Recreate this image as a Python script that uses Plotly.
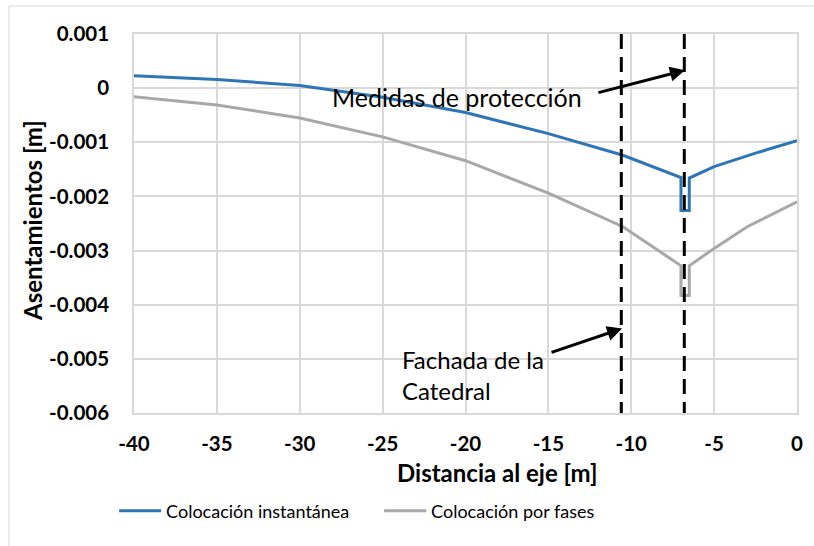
import plotly.graph_objects as go

# Data
x_inst = [-40, -35, -30, -25, -20, -15, -10.5, -7.0, -7.0, -6.5, -6.5, -5, -2.5, 0]
y_inst = [0.00023, 0.00016, 0.00005, -0.00017, -0.00045, -0.00084, -0.00124,
          -0.00165, -0.00226, -0.00226, -0.00166, -0.00145, -0.00120, -0.00097]

x_fases = [-40, -35, -30, -25, -20, -15, -10.5, -7.0, -7.0, -6.5, -6.5, -5, -3, 0]
y_fases = [-0.00016, -0.00031, -0.00055, -0.00090, -0.00134, -0.00194, -0.00256,
           -0.00328, -0.00383, -0.00383, -0.00328, -0.00296, -0.00256, -0.00210]

x_marks = [-10.6, -6.8]          # vertical dashed reference lines
x_ticks = [-40, -35, -30, -25, -20, -15, -10, -5, 0]
x_tick_text = ["-40", "-35", "-30", "-25", "-20", "-15", "-10", "-5", "0"]
y_ticks = [0.001, 0, -0.001, -0.002, -0.003, -0.004, -0.005, -0.006]
y_tick_text = ["0.001", "0", "-0.001", "-0.002", "-0.003", "-0.004", "-0.005", "-0.006"]

FONT = "Lato"
GRID = "#d9d9d9"

fig = go.Figure()
fig.add_trace(go.Scatter(x=x_inst, y=y_inst, mode="lines", name="Colocación instantánea",
                         line=dict(color="#2E75B6", width=3)))
fig.add_trace(go.Scatter(x=x_fases, y=y_fases, mode="lines", name="Colocación por fases",
                         line=dict(color="#A8A8A8", width=3)))

for xm in x_marks:
    fig.add_shape(type="line", xref="x", yref="y", x0=xm, x1=xm, y0=0.001, y1=-0.006,
                  line=dict(color="black", width=3, dash="15px,8px"))

# outer chart border
fig.add_shape(type="rect", xref="paper", yref="paper", x0=-0.1885, x1=1.2, y0=-0.6, y1=1.0739,
              line=dict(color=GRID, width=1), fillcolor="rgba(0,0,0,0)", layer="below")

# annotations
fig.add_annotation(x=-20.5, y=-0.000167, xref="x", yref="y", text="Medidas de protección",
                   showarrow=False, font=dict(family=FONT, size=25, color="black"))
fig.add_annotation(x=-6.76, y=0.00033, ax=-12.07, ay=-0.00009, xref="x", yref="y",
                   axref="x", ayref="y", text="", showarrow=True, arrowhead=2,
                   arrowsize=1, arrowwidth=3, arrowcolor="black")
fig.add_annotation(x=-23.95, y=-0.0053, xref="x", yref="y", text="Fachada de la<br>Catedral",
                   showarrow=False, xanchor="left", yanchor="middle", align="left",
                   font=dict(family=FONT, size=24, color="black"))
fig.add_annotation(x=-10.55, y=-0.00444, ax=-14.9, ay=-0.00489, xref="x", yref="y",
                   axref="x", ayref="y", text="", showarrow=True, arrowhead=2,
                   arrowsize=1, arrowwidth=3, arrowcolor="black")

# axis titles
fig.add_annotation(x=(497 - 134) / 663, y=(413 - 472) / 379, xref="paper", yref="paper",
                   xanchor="center", yanchor="middle",
                   text="<b>Distancia al eje [m]</b>", showarrow=False,
                   font=dict(family=FONT, size=24, color="black"))
fig.add_annotation(x=(32 - 134) / 663, y=(413 - 221) / 379, xref="paper", yref="paper",
                   xanchor="center", yanchor="middle",
                   text="<b>Asentamientos [m]</b>", showarrow=False, textangle=-90,
                   font=dict(family=FONT, size=24, color="black"))

fig.update_layout(
    width=814, height=546,
    margin=dict(l=134, r=17, t=34, b=133, autoexpand=False),
    paper_bgcolor="white", plot_bgcolor="white",
    font=dict(family=FONT, color="black"),
    showlegend=True,
    legend=dict(orientation="h", x=-0.03, xanchor="left", y=-0.259, yanchor="middle",
                font=dict(family=FONT, size=18, color="black"),
                entrywidth=208, entrywidthmode="pixels", itemwidth=42),
)
fig.update_xaxes(range=[-40, 0], tickvals=x_ticks, ticktext=["<b>%s</b>" % t for t in x_tick_text],
                 showgrid=True, gridcolor=GRID, gridwidth=1.5,
                 zeroline=False, showline=True, linecolor=GRID, linewidth=1.5, mirror=True,
                 ticks="outside", ticklen=12, tickcolor="rgba(0,0,0,0)",
                 tickfont=dict(family=FONT, size=20.5, color="black"))
fig.update_yaxes(range=[-0.006, 0.001], tickvals=y_ticks, ticktext=["<b>%s</b>" % t for t in y_tick_text],
                 showgrid=True, gridcolor=GRID, gridwidth=1.5, zeroline=False, showline=True,
                 linecolor=GRID, linewidth=1.5, mirror=True,
                 ticks="outside", ticklen=19, tickcolor="rgba(0,0,0,0)",
                 tickfont=dict(family=FONT, size=20.5, color="black"))

fig.write_html("out.html", config={"displayModeBar": False},
               post_script="document.body.style.margin='0';document.body.style.padding='0';")
